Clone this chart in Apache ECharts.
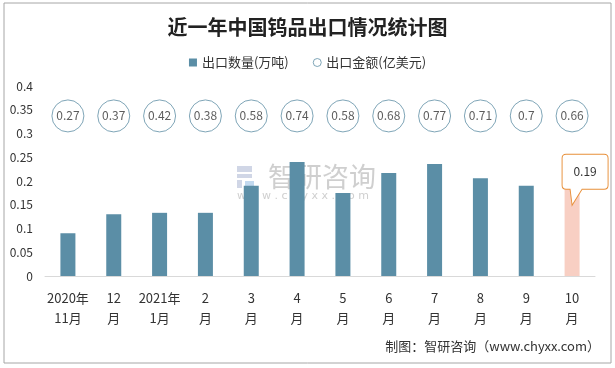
<!DOCTYPE html>
<html><head><meta charset="utf-8">
<script src="https://cdn.jsdelivr.net/npm/echarts@6/dist/echarts.min.js"></script>
<style>html,body{margin:0;padding:0;background:#fff}#c{width:615px;height:368px}</style>
</head><body><div id="c"></div>
<script>
const categories = ['2020年\n11月','12\n月','2021年\n1月','2\n月','3\n月','4\n月','5\n月','6\n月','7\n月','8\n月','9\n月','10\n月'];
const quantity = [0.09, 0.13, 0.133, 0.133, 0.19, 0.24, 0.175, 0.217, 0.236, 0.206, 0.19, 0.19];
const amount = [0.27, 0.37, 0.42, 0.38, 0.58, 0.74, 0.58, 0.68, 0.77, 0.71, 0.7, 0.66];
const yTicks = [0, 0.05, 0.1, 0.15, 0.2, 0.25, 0.3, 0.35, 0.4];
const circleRow = 0.337;
const seriesNames = ['出口数量(万吨)', '出口金额(亿美元)'];

const barColor = '#5b8ea6';
const circleColor = '#5f8ea5';
const lastColor = '#f8cfc3';
const font = '"Noto Sans CJK SC", "Noto Sans", sans-serif';
const last = quantity.length - 1;

const chart = echarts.init(document.getElementById('c'), null, {renderer: 'canvas'});
chart.setOption({
  animation: false,
  textStyle: {fontFamily: font},
  title: {
    text: '近一年中国钨品出口情况统计图', left: 'center', top: 12,
    textStyle: {fontSize: 20, fontWeight: 'bold', color: '#222', fontFamily: font}
  },
  legend: {
    top: 51, left: 'center', itemGap: 24, itemWidth: 8, itemHeight: 8,
    textStyle: {fontSize: 13, color: '#333'},
    data: [
      {name: seriesNames[0], icon: 'rect'},
      {name: seriesNames[1], icon: 'circle', itemStyle: {color: '#fff', borderColor: circleColor, borderWidth: 1}}
    ]
  },
  grid: {left: 45, right: 20, top: 86, bottom: 92},
  xAxis: {
    type: 'category', data: categories,
    axisLine: {lineStyle: {color: '#d9d9d9'}},
    axisTick: {show: false},
    axisLabel: {fontSize: 13, color: '#333', lineHeight: 20, margin: 12, interval: 0}
  },
  yAxis: {
    type: 'value', min: yTicks[0], max: yTicks[yTicks.length - 1], interval: 0.05,
    splitLine: {show: false}, axisLine: {show: false}, axisTick: {show: false},
    axisLabel: {fontSize: 12, color: '#333', margin: 12}
  },
  series: [
    {
      name: seriesNames[0], type: 'bar', barWidth: 15,
      itemStyle: {color: barColor},
      data: quantity.map((v, i) => i === last ? {value: v, itemStyle: {color: lastColor}} : v),
      markPoint: {
        symbol: 'path://M4,0 L42,0 Q46,0 46,4 L46,31 Q46,35 42,35 L20,35 L10,51 L8,35 L4,35 Q0,35 0,31 L0,4 Q0,0 4,0 Z',
        symbolSize: [46, 51],
        symbolOffset: [13, -6],
        itemStyle: {color: '#fff', borderColor: '#e8903a', borderWidth: 1},
        label: {show: true, color: '#333', fontSize: 12, offset: [0, -8], formatter: p => String(p.value)},
        data: [{coord: [last, quantity[last]], value: quantity[last]}]
      },
      z: 2
    },
    {
      name: seriesNames[1], type: 'scatter', symbol: 'circle', symbolSize: 32,
      itemStyle: {color: '#fff', borderColor: circleColor, borderWidth: 1},
      label: {show: true, position: 'inside', color: '#333', fontSize: 12, formatter: p => String(p.value[2])},
      data: amount.map((a, i) => [i, circleRow, a]),
      z: 3
    }
  ],
  graphic: [
    {type: 'rect', shape: {x: 4, y: 3, width: 607, height: 360}, style: {fill: 'none', stroke: '#a6a6a6', lineWidth: 1}, z: 0, silent: true},
    {type: 'group', left: 237, top: 166, z: 1, silent: true, children: [
      {type: 'rect', shape: {x: 0, y: 0, width: 15, height: 6}, style: {fill: 'rgba(150,165,200,0.45)'}},
      {type: 'rect', shape: {x: 0, y: 8, width: 15, height: 4}, style: {fill: 'rgba(150,165,200,0.45)'}},
      {type: 'rect', shape: {x: 0, y: 14, width: 5, height: 8}, style: {fill: 'rgba(150,165,200,0.45)'}},
      {type: 'rect', shape: {x: 8, y: 15, width: 9, height: 5}, style: {fill: 'rgba(120,170,220,0.45)'}}
    ]},
    {type: 'text', left: 268, top: 163, z: 1, silent: true,
      style: {text: '智研咨询', fontSize: 27, fill: 'rgba(160,160,160,0.5)', fontFamily: font}},
    {type: 'text', left: 237, top: 191, z: 1, silent: true,
      style: {text: 'w w w . c h y x x . c o m', fontSize: 11, fill: 'rgba(160,160,160,0.5)', fontFamily: 'DejaVu Sans'}},
    {type: 'text', right: 15, top: 340, z: 5, silent: true,
      style: {text: '制图：智研咨询（www.chyxx.com）', fontSize: 13, fill: '#333', fontFamily: font}}
  ]
});
</script></body></html>
